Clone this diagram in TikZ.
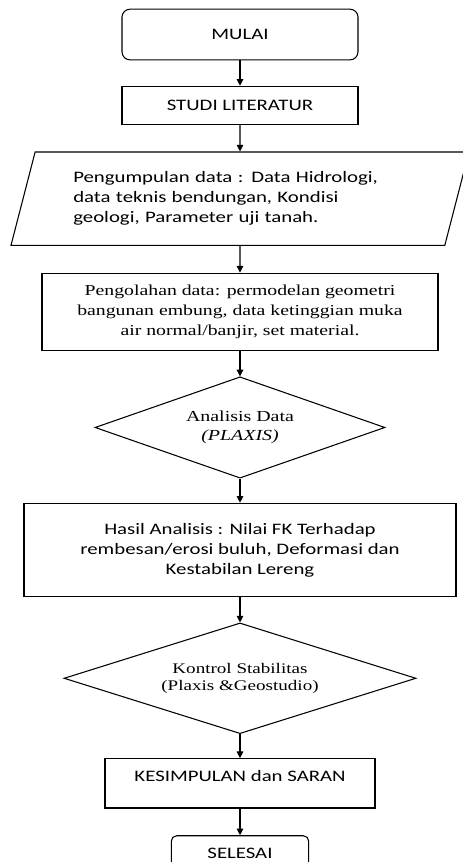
\documentclass[tikz,border=0pt]{standalone}
\usepackage{fontspec}
\setmainfont[FakeStretch=1.3]{Liberation Serif}
\setsansfont[FakeStretch=1.3]{Carlito}
\usetikzlibrary{arrows.meta, positioning, shapes.geometric}

\begin{document}
\begin{tikzpicture}[
  node distance=19pt,
  every node/.style={align=center, font=\sffamily\fontsize{12}{15}\selectfont},
  base/.style={draw=black, line width=0.8pt, inner sep=3pt},
  term/.style={base, rectangle, rounded corners=6pt},
  box/.style={base, rectangle},
  iobox/.style={base, trapezium, trapezium left angle=72, trapezium right angle=108,
                trapezium stretches=true},
  dec/.style={base, diamond, inner sep=1pt, font=\rmfamily\fontsize{11.5}{14.5}\selectfont},
  arr/.style={-{Triangle[length=5pt, width=5pt]}, line width=0.8pt}
]
  \useasboundingbox (0,0) rectangle (346.5pt,-646.5pt);

  \node[term, minimum width=177pt, minimum height=38pt] (mulai) at (180pt,-25.9pt) {MULAI};
  \node[box, below=of mulai, minimum width=177pt, minimum height=28.5pt] (studi) {STUDI LITERATUR};
  \node[iobox, below=20pt of studi, minimum width=345pt, minimum height=70pt,
        text width=250pt, align=left] (kumpul)
    {Pengumpulan data : Data Hidrologi,\\data teknis bendungan, Kondisi\\geologi, Parameter uji tanah.};
  \node[box, below=20pt of kumpul, minimum width=297pt, minimum height=58pt,
        font=\rmfamily\fontsize{11.4}{15}\selectfont] (olah)
    {Pengolahan data: permodelan geometri\\bangunan embung, data ketinggian muka\\air normal/banjir, set material.};
  \node[dec, aspect=2.9, below=of olah, minimum width=217.5pt, minimum height=76pt] (analisis)
    {Analisis Data\\\textit{(PLAXIS)}};
  \node[box, below=18pt of analisis, minimum width=324pt, minimum height=70pt] (hasil)
    {Hasil Analisis : Nilai FK Terhadap\\rembesan/erosi buluh, Deformasi dan\\Kestabilan Lereng};
  \node[dec, aspect=3.2, below=of hasil, minimum width=264pt, minimum height=83pt,
        font=\rmfamily\fontsize{11}{13}\selectfont] (kontrol)
    {Kontrol Stabilitas\\(Plaxis \&Geostudio)};
  \node[box, below=18pt of kontrol, minimum width=202.5pt, minimum height=37pt,
        text depth=11pt] (simpul)
    {KESIMPULAN dan SARAN};
  \node[term, rounded corners=4pt, below=20pt of simpul, minimum width=103pt, minimum height=26pt] (selesai)
    {SELESAI};

  \draw[arr] (mulai) -- (studi);
  \draw[arr] (studi) -- (kumpul);
  \draw[arr] (kumpul) -- (olah);
  \draw[arr] (olah) -- (analisis);
  \draw[arr] (analisis) -- (hasil);
  \draw[arr] (hasil) -- (kontrol);
  \draw[arr] (kontrol) -- (simpul);
  \draw[arr] (simpul) -- (selesai);
\end{tikzpicture}
\end{document}
